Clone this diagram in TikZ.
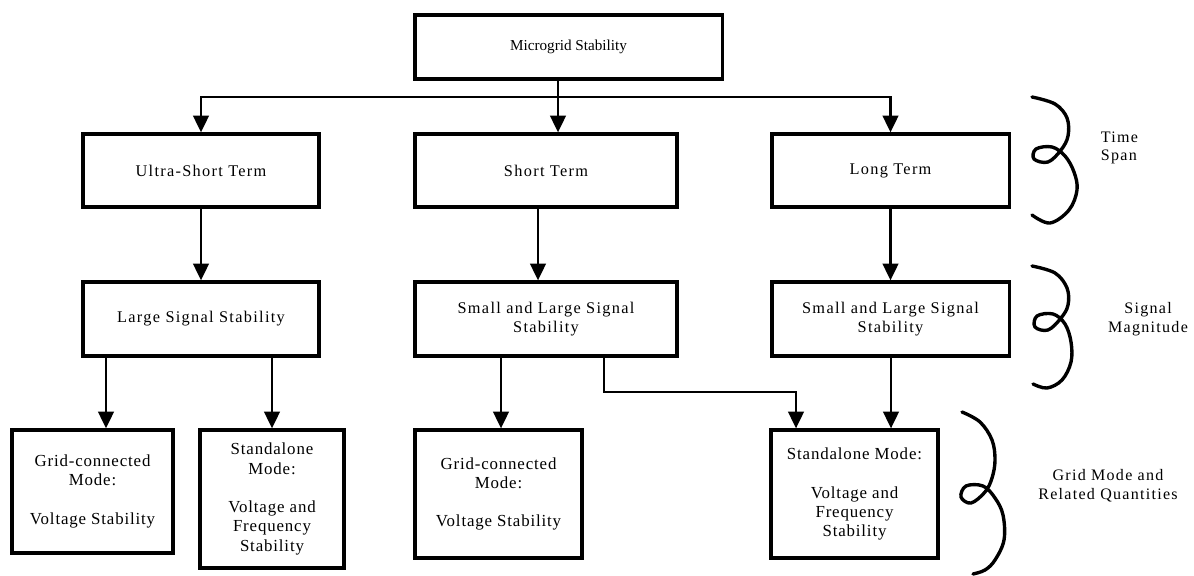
\documentclass[tikz,border=0pt]{standalone}
\usepackage{fontspec}
\setmainfont{Liberation Serif}
\newfontfamily\boxfont[LetterSpace=8]{Liberation Serif}
\newfontfamily\leaffont[LetterSpace=5]{Liberation Serif}
\usepackage{tikz}
\usetikzlibrary{arrows.meta,positioning}

\tikzset{
  stagebox/.style={draw, line width=2.2pt, inner sep=0pt, align=center,
    font=\boxfont\fontsize{11.6}{13.5}\selectfont},
  leafbox/.style={stagebox, font=\leaffont\fontsize{12}{13.7}\selectfont},
  conn/.style={line width=2.1pt},
  arr/.style={conn, -{Triangle[length=12pt,width=11pt]}},
  brace/.style={line width=2.4pt, line cap=round},
  bracelbl/.style={font=\boxfont\fontsize{11.4}{13.3}\selectfont, align=center}
}

\begin{document}
\begin{tikzpicture}[x=0.025cm, y=-0.025cm]
  \useasboundingbox (0,0) rectangle (1194,576);

  % root and time span
  \node[stagebox, font=\fontsize{10.8}{13}\selectfont, minimum width=7.675cm, minimum height=1.6cm] (top) at (568.5,47) {Microgrid Stability};
  \node[stagebox, minimum width=5.9cm, minimum height=1.825cm] (ushort) at (201,170.5) {Ultra-Short Term};
  \node[stagebox, minimum width=6.55cm, minimum height=1.825cm] (sterm) at (546,170.5) {Short Term};
  \node[stagebox, minimum width=5.925cm, minimum height=1.825cm] (lterm) at (890.5,170.5) {Long Term};

  % signal magnitude
  \node[stagebox, minimum width=5.9cm, minimum height=1.85cm] (lsig) at (201,319) {Large Signal Stability};
  \node[stagebox, minimum width=6.55cm, minimum height=1.85cm] (slsig) at (546,319) {Small and Large Signal\\Stability};
  \node[stagebox, minimum width=5.925cm, minimum height=1.85cm] (rlsig) at (890.5,319) {Small and Large Signal\\Stability};

  % grid modes
  \node[leafbox, minimum width=4.025cm, minimum height=3.075cm] (leafa) at (92.5,491.5) {Grid-connected\\Mode:\\[\baselineskip]Voltage Stability};
  \node[leafbox, minimum width=3.6cm, minimum height=3.45cm] (leafb) at (272,499) {Standalone\\Mode:\\[\baselineskip]Voltage and\\Frequency\\Stability};
  \node[leafbox, minimum width=4.175cm, minimum height=3.2cm] (leafc) at (498.5,494) {Grid-connected\\Mode:\\[\baselineskip]Voltage Stability};
  \node[leafbox, minimum width=4.175cm, minimum height=3.2cm] (leafd) at (854.5,494) {Standalone Mode:\\[\baselineskip]Voltage and\\Frequency\\Stability};

  % connectors
  \coordinate (split) at (558,97);
  \draw[conn] (558,0 |- top.south) -- (split);
  \draw[arr] (split) -| (ushort.north);
  \draw[arr] (split) -- (split |- sterm.north);
  \draw[arr] (split) -| (lterm.north);
  \draw[arr] (ushort) -- (lsig);
  \draw[arr] (538,0 |- sterm.south) -- (538,0 |- slsig.north);
  \draw[arr] (lterm) -- (rlsig);
  \draw[arr] (106,0 |- lsig.south) -- (106,0 |- leafa.north);
  \draw[arr] (272,0 |- lsig.south) -- (272,0 |- leafb.north);
  \draw[arr] (501,0 |- slsig.south) -- (501,0 |- leafc.north);
  \draw[arr] (604,0 |- slsig.south) -- (604,392) -| (796,0 |- leafd.north);
  \draw[arr] (891,0 |- rlsig.south) -- (891,0 |- leafd.north);

  % curly braces
  \draw[brace] plot[smooth, tension=0.6] coordinates {(1032,97) (1055,104) (1067,118) (1068,136) (1061,150) (1048,162) (1034,159) (1036,149) (1052,147) (1065,156) (1074,172) (1077,190) (1069,210) (1050,223) (1032,215)};
  \draw[brace] plot[smooth, tension=0.6] coordinates {(1032,266) (1055,273) (1067,288) (1068,305) (1061,318) (1048,330) (1035,327) (1037,316) (1053,314) (1065,324) (1071,342) (1071,362) (1062,380) (1047,388) (1033,384)};
  \draw[brace] plot[smooth, tension=0.6] coordinates {(962,412) (980,422) (992,440) (995,460) (992,478) (985,492) (971,503) (961,497) (966,486) (983,486) (995,498) (1003,515) (1004,540) (995,560) (985,570) (973,574)};

  \node[bracelbl, align=left, anchor=west] (tspan) at (1096,148) {Time\\Span};
  \node[bracelbl] (smag) at (1148,319) {Signal\\Magnitude};
  \node[bracelbl] (gmode) at (1108,486) {Grid Mode and\\Related Quantities};
\end{tikzpicture}
\end{document}
